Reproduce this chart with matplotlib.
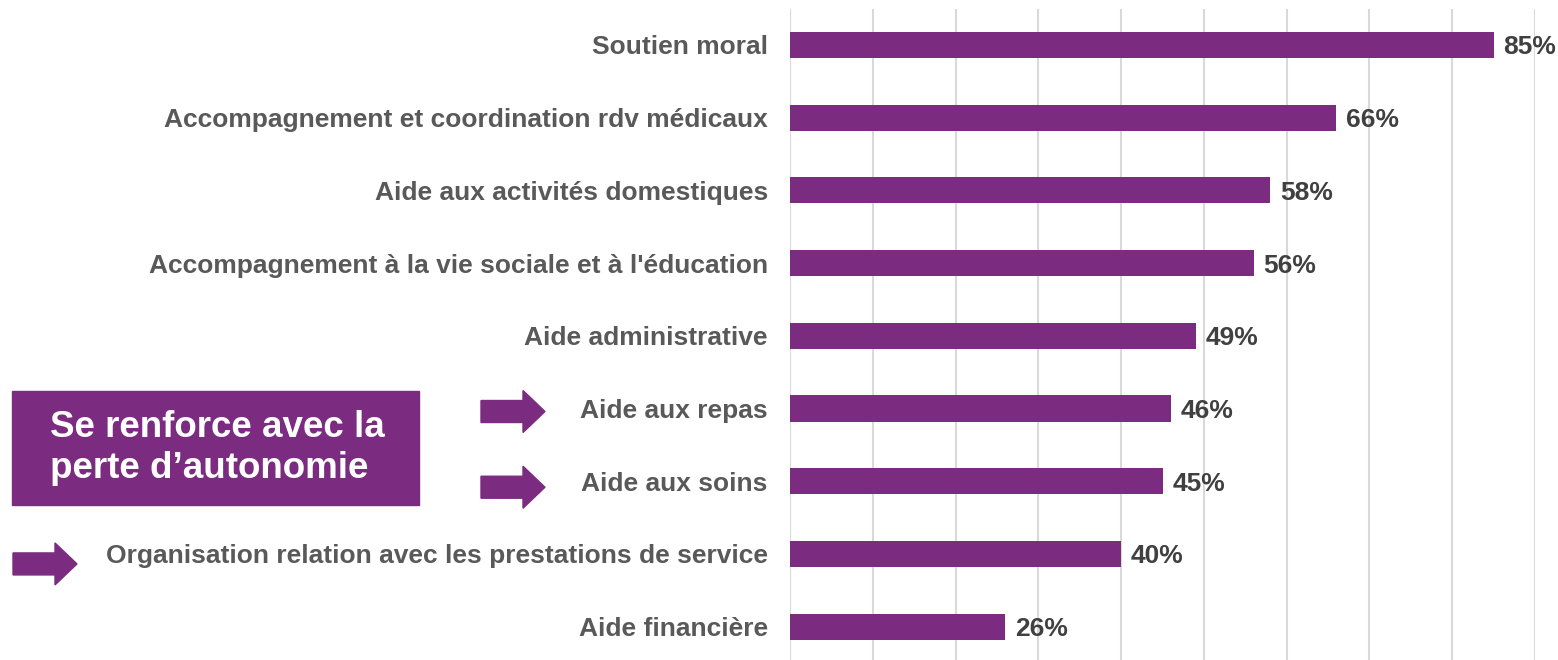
import matplotlib
matplotlib.use("Agg")
import matplotlib.pyplot as plt
from matplotlib.patches import Polygon, Rectangle
from matplotlib.transforms import blended_transform_factory

plt.rcParams['font.family'] = ['Liberation Sans', 'DejaVu Sans']

# donnees
categories = [
    "Soutien moral",
    "Accompagnement et coordination rdv médicaux",
    "Aide aux activités domestiques",
    "Accompagnement à la vie sociale et à l'éducation",
    "Aide administrative",
    "Aide aux repas",
    "Aide aux soins",
    "Organisation relation avec les prestations de service",
    "Aide financière",
]
values = [85, 66, 58, 56, 49, 46, 45, 40, 26]
value_labels = [f"{v}%" for v in values]
encart = "Se renforce avec la\nperte d\u2019autonomie"
# lignes marquees d'une fleche : (categorie, x depart en px, decalage vertical en px)
fleches = [("Aide aux repas", 481, 3), ("Aide aux soins", 481, 6),
           ("Organisation relation avec les prestations de service", 13, 10)]

violet = "#7B2C80"
W, H = 1558, 660

fig = plt.figure(figsize=(W / 100, H / 100), dpi=100)
ax = fig.add_axes([790 / W, -3 / H, (1535 - 790) / W, (663 - 8.6) / H])

y = list(range(len(categories)))
ax.barh(y, values, height=0.36, color=violet)
ax.set_ylim(len(categories) - 0.5, -0.5)
ax.set_xlim(0, 90)
ax.set_xticks(range(0, 91, 10))
ax.set_xticklabels([])
ax.set_yticks(y)
ax.set_yticklabels(categories, fontsize=19, fontweight='bold', color='#595959')
ax.tick_params(length=0, axis='y', pad=16)
ax.tick_params(length=0, axis='x')
ax.grid(axis='x', color='#d9d9d9', linewidth=1.5)
ax.set_axisbelow(True)
for s in ax.spines.values():
    s.set_visible(False)

for yi, v, lab in zip(y, values, value_labels):
    ax.annotate(lab, (v, yi), xytext=(7, 0), textcoords='offset points',
                va='center_baseline', ha='left', fontsize=19, fontweight='bold',
                color='#404040', clip_on=False)

# encart violet
fig.patches.append(Rectangle((12 / W, 1 - 505 / H), (419 - 12) / W, (505 - 391) / H,
                             transform=fig.transFigure, color=violet))
fig.text(50 / W, 1 - 448 / H, encart, color='white', fontsize=26.5, fontweight='bold',
         va='center', ha='left', linespacing=1.2)

# fleches
px_per_unit = (663 - 8.6) / len(categories)
trans = blended_transform_factory(fig.transFigure, ax.transData)
for cat, x0, dy in fleches:
    yc = categories.index(cat) + dy / px_per_unit
    sh = 11 / px_per_unit
    hh = 21 / px_per_unit
    xs, xm, xe = x0 / W, (x0 + 42) / W, (x0 + 64) / W
    pts = [(xs, yc - sh), (xm, yc - sh), (xm, yc - hh), (xe, yc),
           (xm, yc + hh), (xm, yc + sh), (xs, yc + sh)]
    fig.patches.append(Polygon(pts, closed=True, transform=trans, color=violet,
                               clip_on=False))

fig.savefig("out.png", dpi=100)
